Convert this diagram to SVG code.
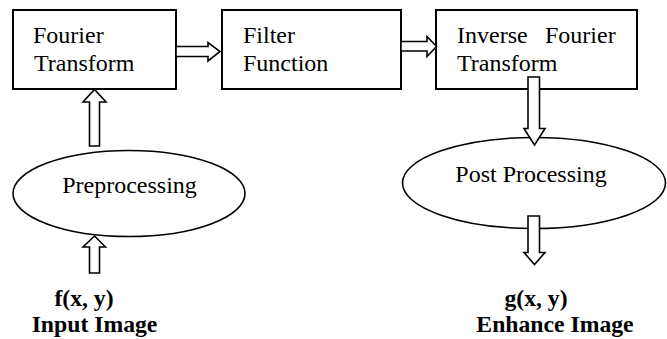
<svg xmlns="http://www.w3.org/2000/svg" width="667" height="339" viewBox="0 0 667 339">
<style>
  .box { fill: #fff; stroke: #000; stroke-width: 2; }
  .ell { fill: #fff; stroke: #000; stroke-width: 1.6; }
  text { font-family: 'Liberation Serif', 'Times New Roman', Times, 'DejaVu Serif', serif; font-size: 24px; fill: #000; }
  .b { font-weight: bold; text-anchor: middle; font-size: 23.7px; }
  .arr { fill: #fff; stroke: #000; stroke-width: 1.6; stroke-linejoin: miter; }
</style>
<rect width="667" height="339" fill="#fff"/>
<g id="fourier">
  <rect class="box" x="13" y="10" width="163" height="79"/>
  <text x="33" y="43">Fourier</text>
  <text x="34" y="71">Transform</text>
</g>
<g id="filter">
  <rect class="box" x="222" y="10" width="179" height="79"/>
  <text x="243" y="43">Filter</text>
  <text x="243" y="71">Function</text>
</g>
<g id="inverse">
  <rect class="box" x="436" y="10" width="201" height="79"/>
  <text y="43"><tspan x="457">Inverse</tspan><tspan x="545">Fourier</tspan></text>
  <text x="457" y="71">Transform</text>
</g>
<g id="preprocessing">
  <ellipse class="ell" cx="129" cy="193.5" rx="116" ry="43"/>
  <text x="129.5" y="193" text-anchor="middle">Preprocessing</text>
</g>
<g id="postprocessing">
  <ellipse class="ell" cx="534" cy="183" rx="131.5" ry="45.5"/>
  <text x="531" y="182" text-anchor="middle">Post Processing</text>
</g>
<g id="input">
  <text class="b" x="84" y="306">f(x, y)</text>
  <text class="b" x="94.5" y="332">Input Image</text>
</g>
<g id="output">
  <text class="b" x="536" y="306">g(x, y)</text>
  <text class="b" x="555" y="332">Enhance Image</text>
</g>
<g id="connectors">
  <polygon class="arr" points="176,46.5 208,46.5 208,42.5 220,51.5 208,61 208,56.5 176,56.5"/>
  <polygon class="arr" points="401,41.5 427,41.5 427,36.5 436.5,46.5 427,56.5 427,51 401,51"/>
  <polygon class="arr" points="89.5,146 89.5,102 83,102 94.5,89.5 106,102 99.5,102 99.5,146"/>
  <polygon class="arr" points="89.5,273 89.5,247 83,247 94.5,236 105.5,247 99.5,247 99.5,273"/>
  <polygon class="arr" points="528,77 539.5,77 539.5,128.5 545,128.5 534.5,145 524,128.5 528,128.5"/>
  <polygon class="arr" points="528,216 539.5,216 539.5,252.5 545,252.5 534.5,264.5 524,252.5 528,252.5"/>
</g>
</svg>
